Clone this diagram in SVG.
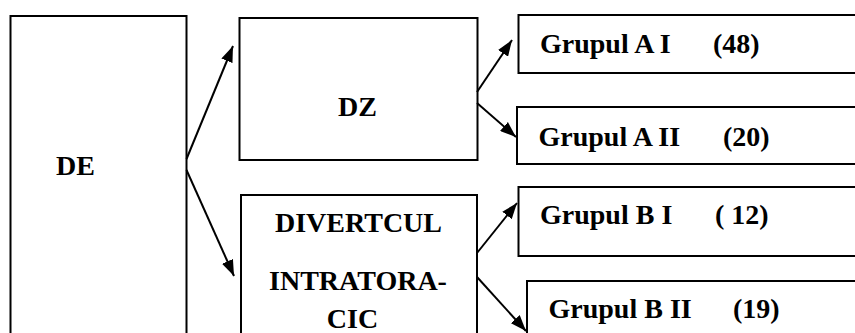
<svg xmlns="http://www.w3.org/2000/svg" width="855" height="333" viewBox="0 0 855 333">
<defs>
<marker id="ah" viewBox="0 0 16 12" refX="16" refY="6" markerWidth="16" markerHeight="12" markerUnits="userSpaceOnUse" orient="auto">
<path d="M0,0 L16,6 L0,12 Z" fill="#000"/>
</marker>
<style>
.box{fill:#fff;stroke:#000;stroke-width:2}
.t{font-family:'Liberation Serif',serif;font-weight:700;font-size:28px;fill:#000}
.c{fill:none;stroke:#000;stroke-width:2;marker-end:url(#ah)}
</style>
</defs>
<rect width="855" height="333" fill="#fff"/>
<g id="node-de">
<rect class="box" x="10.5" y="16" width="176" height="330"/>
<text class="t" x="56" y="175">DE</text>
</g>
<g id="node-dz">
<rect class="box" x="239.5" y="18" width="238" height="142"/>
<text class="t" x="338" y="116">DZ</text>
</g>
<g id="node-divert">
<rect class="box" x="241" y="195" width="236" height="150"/>
<text class="t" x="358.5" y="232" text-anchor="middle">DIVERTCUL</text>
<text class="t" x="358" y="290" text-anchor="middle">INTRATORA-</text>
<text class="t" x="352.5" y="328" text-anchor="middle">CIC</text>
</g>
<g id="node-a1">
<rect class="box" x="518.5" y="15" width="350" height="58"/>
<text class="t" x="540" y="53">Grupul A I</text>
<text class="t" x="713" y="53">(48)</text>
</g>
<g id="node-a2">
<rect class="box" x="517" y="107" width="350" height="57"/>
<text class="t" x="538.5" y="146">Grupul A II</text>
<text class="t" x="723" y="146">(20)</text>
</g>
<g id="node-b1">
<rect class="box" x="518.5" y="187" width="350" height="69"/>
<text class="t" x="540" y="224">Grupul B I</text>
<text class="t" x="715" y="224">( 12)</text>
</g>
<g id="node-b2">
<rect class="box" x="527" y="281" width="350" height="70"/>
<text class="t" x="548.5" y="318">Grupul B II</text>
<text class="t" x="733" y="318">(19)</text>
</g>
<g id="connectors">
<line class="c" x1="186.5" y1="159" x2="233" y2="46"/>
<line class="c" x1="186.5" y1="170" x2="234" y2="276"/>
<line class="c" x1="477" y1="92" x2="512" y2="40"/>
<line class="c" x1="477" y1="103" x2="516" y2="137"/>
<line class="c" x1="477" y1="253" x2="517" y2="203"/>
<line class="c" x1="477" y1="277" x2="526" y2="331"/>
</g>
</svg>
